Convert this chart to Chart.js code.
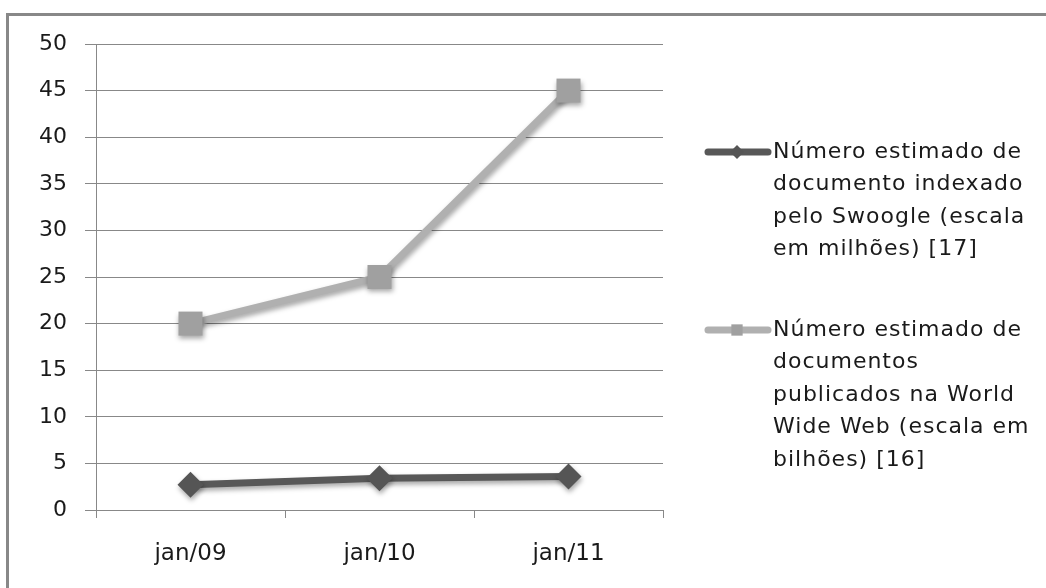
<!DOCTYPE html>
<html>
<head>
<meta charset="utf-8">
<script src="https://cdn.jsdelivr.net/npm/chart.js@4"></script>
<style>
html, body { margin: 0; padding: 0; background: #fff; overflow: hidden; }
#wrap { position: relative; width: 1046px; height: 588px; overflow: hidden; }
#frame { position: absolute; left: 6px; top: 13px; right: -10px; bottom: -10px; border-left: 3px solid #888; border-top: 3px solid #888; }
canvas { position: absolute; left: 0; top: 0; }
</style>
</head>
<body>
<div id="wrap">
  <div id="frame"></div>
  <canvas id="myChart" width="1046" height="588"></canvas>
</div>
<script>
// Chart data
const categories = ['jan/09', 'jan/10', 'jan/11'];
const swoogleDocs = [2.7, 3.4, 3.6];
const webDocs = [20, 25, 45];
const yMin = 0;
const yMax = 50;
const yStep = 5;

// Legend text, already wrapped like the original
const swoogleLabel = ['Número estimado de', 'documento indexado', 'pelo Swoogle (escala', 'em milhões) [17]'];
const webLabel = ['Número estimado de', 'documentos', 'publicados na World', 'Wide Web (escala em', 'bilhões) [16]'];

const textFont = '"DejaVu Sans", Verdana, sans-serif';

// soft shadow under lines and markers
const shadowPlugin = {
    id: 'shadowPlugin',
    beforeDatasetsDraw(chart) {
        const ctx = chart.ctx;
        ctx.save();
        ctx.shadowColor = 'rgba(0, 0, 0, 0.35)';
        ctx.shadowBlur = 5;
        ctx.shadowOffsetX = 1;
        ctx.shadowOffsetY = 3;
    },
    afterDatasetsDraw(chart) {
        chart.ctx.restore();
    }
};

// legend on the right with wrapped labels
const sideLegend = {
    id: 'sideLegend',
    afterDraw(chart) {
        const ctx = chart.ctx;
        const starts = [152, 330];
        const lineGap = 32.5;
        chart.data.datasets.forEach((ds, i) => {
            const y = starts[i];
            ctx.save();
            ctx.strokeStyle = ds.borderColor;
            ctx.lineWidth = 7;
            ctx.lineCap = 'round';
            ctx.beginPath();
            ctx.moveTo(708, y);
            ctx.lineTo(768, y);
            ctx.stroke();
            ctx.fillStyle = ds.pointBackgroundColor;
            Chart.helpers.drawPoint(ctx, {
                pointStyle: ds.pointStyle,
                radius: ds.pointStyle === 'rect' ? 8 : 7,
                rotation: 0,
                borderWidth: 0
            }, 737, y);
            ctx.fillStyle = '#1a1a1a';
            ctx.font = '22px ' + textFont;
            ctx.letterSpacing = '1px';
            ctx.textAlign = 'left';
            ctx.textBaseline = 'middle';
            ds.legendLines.forEach((line, k) => {
                ctx.fillText(line, 773, y + k * lineGap);
            });
            ctx.restore();
        });
    }
};

function createChart() {
    const ctx = document.getElementById('myChart').getContext('2d');
    return new Chart(ctx, {
        type: 'line',
        data: {
            labels: categories,
            datasets: [{
                label: swoogleLabel.join(' '),
                legendLines: swoogleLabel,
                data: swoogleDocs,
                borderColor: '#585858',
                borderWidth: 7,
                pointStyle: 'rectRot',
                pointRadius: 13,
                pointBackgroundColor: '#555555',
                pointBorderWidth: 0,
                fill: false
            }, {
                label: webLabel.join(' '),
                legendLines: webLabel,
                data: webDocs,
                borderColor: '#b0b0b0',
                borderWidth: 7,
                pointStyle: 'rect',
                pointRadius: 17,
                pointBackgroundColor: '#a0a0a0',
                pointBorderWidth: 0,
                fill: false
            }]
        },
        options: {
            responsive: false,
            animation: false,
            events: [],
            layout: {
                padding: { left: 0, top: 44, right: 383, bottom: 0 }
            },
            plugins: {
                legend: { display: false },
                tooltip: { enabled: false }
            },
            scales: {
                x: {
                    offset: true,
                    grid: {
                        offset: true,
                        drawOnChartArea: false,
                        drawTicks: true,
                        tickLength: 8,
                        color: '#888'
                    },
                    border: { display: true, color: '#888' },
                    ticks: {
                        color: '#1a1a1a',
                        font: { family: textFont, size: 23 },
                        padding: 22
                    },
                    afterFit(scale) { scale.height = 78; }
                },
                y: {
                    min: yMin,
                    max: yMax,
                    grid: {
                        color: '#888',
                        tickLength: 11
                    },
                    border: { display: true, color: '#888' },
                    ticks: {
                        stepSize: yStep,
                        color: '#1a1a1a',
                        font: { family: textFont, size: 22 },
                        padding: 18
                    },
                    afterFit(scale) { scale.width = 96; }
                }
            }
        },
        plugins: [shadowPlugin, sideLegend]
    });
}

const myChart = createChart();
</script>
</body>
</html>
